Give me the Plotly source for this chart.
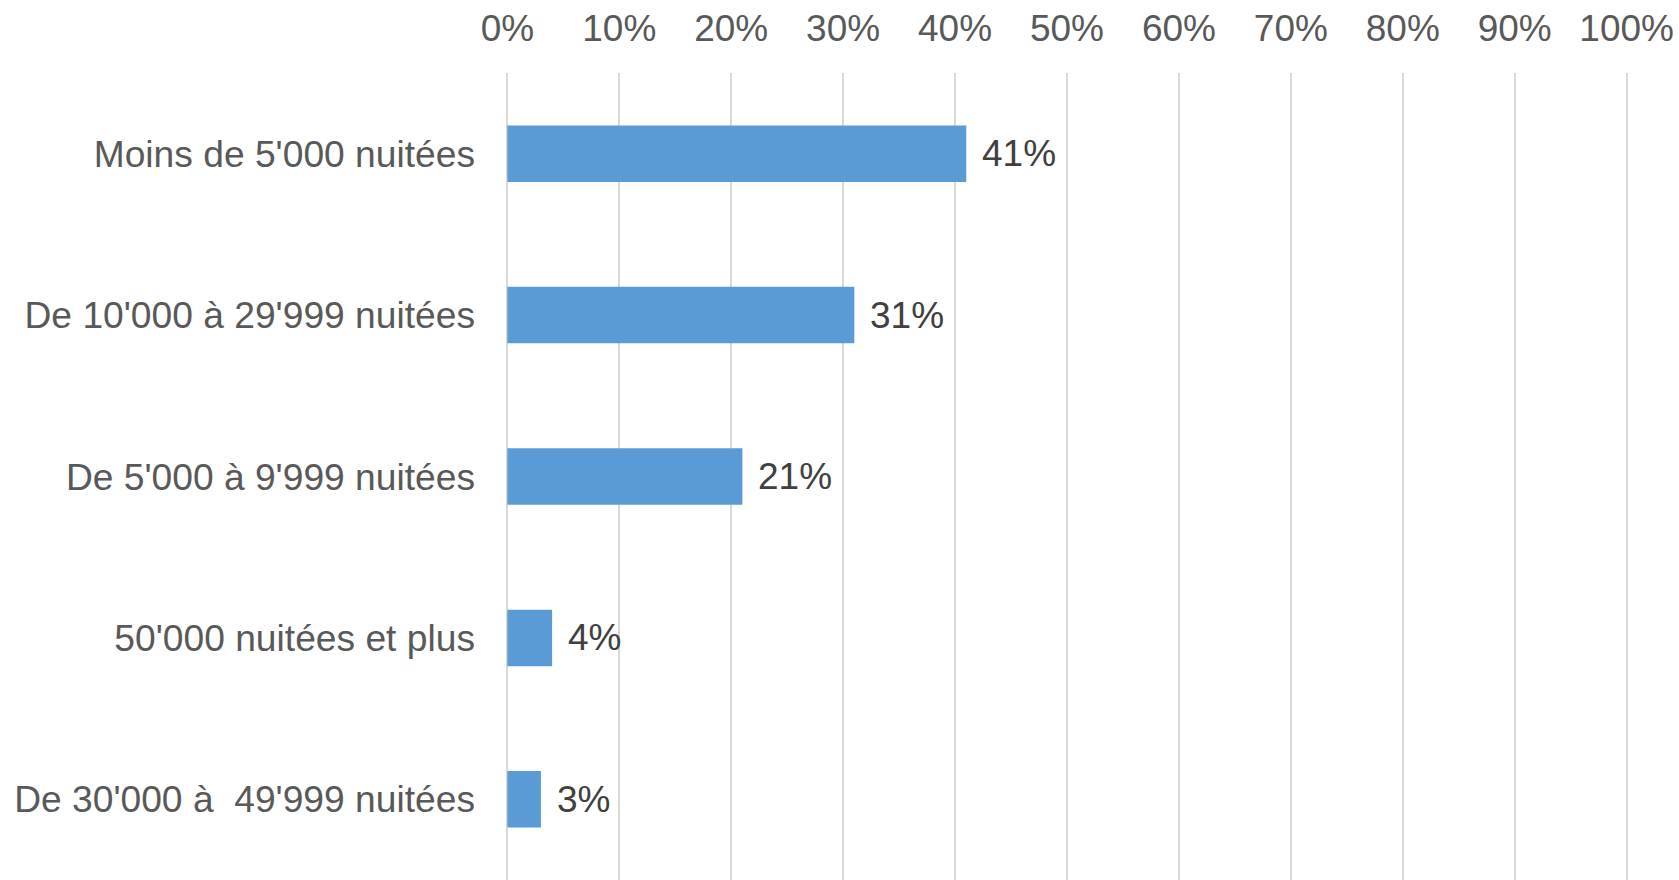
import plotly.graph_objects as go

categories = ["Moins de 5'000 nuitées", "De 10'000 à 29'999 nuitées", "De 5'000 à 9'999 nuitées",
              "50'000 nuitées et plus", "De 30'000 à\u00a0 49'999 nuitées"]
values = [0.41, 0.31, 0.21, 0.04, 0.03]
labels = ["41%", "31%", "21%", "4%", "3%"]
tick_vals = [i / 10 for i in range(11)]
tick_text = [f"{i*10}%" for i in range(11)]

fig = go.Figure()
fig.add_trace(go.Bar(
    x=values, y=categories, orientation="h",
    marker=dict(color="#5B9BD5", line=dict(width=0)),
    hoverinfo="skip",
))
for v, c, t in zip(values, categories, labels):
    fig.add_annotation(x=v, y=c, text=t, showarrow=False, xanchor="left", xshift=14,
                       font=dict(family="Liberation Sans, Arial, sans-serif", size=37, color="#404040"))

fig.update_layout(
    width=1679, height=880,
    margin=dict(l=504, r=49, t=73, b=0),
    paper_bgcolor="white", plot_bgcolor="white",
    bargap=0.65, showlegend=False,
    font=dict(family="Liberation Sans, Arial, sans-serif", size=36, color="#595959"),
    xaxis=dict(side="top", range=[-0.003, 1.003], tickvals=tick_vals, ticktext=tick_text,
               showgrid=True, gridcolor="#D9D9D9", gridwidth=1.5, zeroline=False, showline=False,
               ticks="", ticklabelstandoff=24, automargin=False,
               tickfont=dict(size=37, color="#595959")),
    yaxis=dict(autorange="reversed", showgrid=False, zeroline=False, showline=False, ticks="",
               ticklabelstandoff=28, automargin=False,
               tickfont=dict(size=37.2, color="#595959")),
)
fig.write_html("out.html", config={"displayModeBar": False},
               post_script="document.body.style.margin='0';document.body.style.overflow='hidden';")
